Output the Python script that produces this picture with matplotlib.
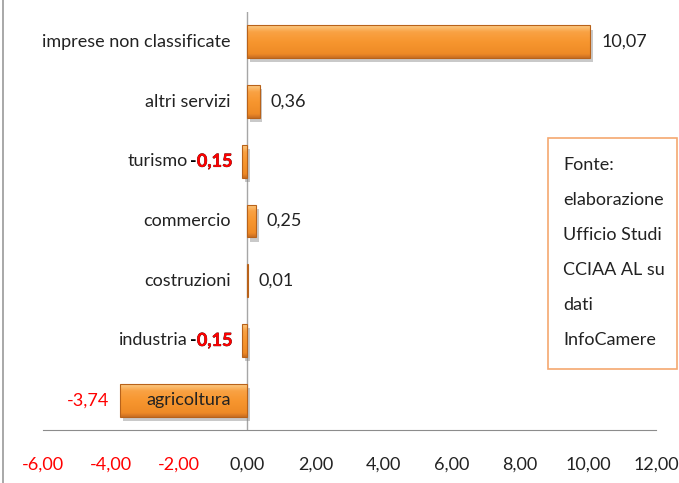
import matplotlib
matplotlib.use("Agg")
import matplotlib.pyplot as plt
import matplotlib.patheffects as pe
from matplotlib.lines import Line2D
from matplotlib.patches import Rectangle
import numpy as np

# data
categories = ["agricoltura", "industria", "costruzioni", "commercio",
              "turismo", "altri servizi", "imprese non classificate"]
values = [-3.74, -0.15, 0.01, 0.25, -0.15, 0.36, 10.07]
xticks = [-6, -4, -2, 0, 2, 4, 6, 8, 10, 12]
note_lines = ["Fonte:", "elaborazione", "Ufficio Studi", "CCIAA AL su", "dati", "InfoCamere"]

plt.rcParams["font.family"] = ["Lato", "DejaVu Sans"]

fs = 13
text_col = "#222222"
red = "#FF0000"

W, H = 679, 483
fig = plt.figure(figsize=(W / 100, H / 100), dpi=100)
ax = fig.add_axes([43 / W, 53 / H, (656 - 43) / W, (430 - 12) / H])

ypos = np.arange(len(categories))
bh = 0.55

# bars with shadow, gradient fill and edge
bars = ax.barh(ypos, values, height=bh, color="#F39A3A", zorder=2,
               path_effects=[pe.withSimplePatchShadow(offset=(2, -3), shadow_rgbFace="#888888", alpha=0.45),
                             pe.Normal()])
grad = np.linspace(0, 1, 64).reshape(-1, 1)
cmap = matplotlib.colors.LinearSegmentedColormap.from_list(
    "og", [(0, "#C96E22"), (0.12, "#EE8A26"), (0.5, "#F7962F"), (0.8, "#F9A244"), (1, "#FCCB86")])
for b in bars:
    x0, y0 = b.get_x(), b.get_y()
    w, h = b.get_width(), b.get_height()
    im = ax.imshow(grad, cmap=cmap, aspect="auto", origin="lower", interpolation="bilinear",
                   extent=(min(x0, x0 + w), max(x0, x0 + w), y0, y0 + h), zorder=3)
    im.set_clip_path(b)
ax.barh(ypos, values, height=bh, facecolor="none", edgecolor="#B8621A", linewidth=0.8, zorder=4)

# value and category labels
for y, v, name in zip(ypos, values, categories):
    lab = f"{abs(v):.2f}".replace(".", ",")
    if v >= 0:
        ax.annotate(lab, (v, y), xytext=(8, 0), textcoords="offset points",
                    ha="left", va="center", fontsize=fs, color=text_col)
        ax.annotate(name, (0, y), xytext=(-12, 0), textcoords="offset points",
                    ha="right", va="center", fontsize=fs, color=text_col, zorder=5)
    elif v < -1:
        ax.annotate("-" + lab, (v, y), xytext=(-8, 0), textcoords="offset points",
                    ha="right", va="center", fontsize=fs, color=red)
        ax.annotate(name, (0, y), xytext=(-12, 0), textcoords="offset points",
                    ha="right", va="center", fontsize=fs, color=text_col, zorder=5)
    else:
        t = ax.annotate(lab, (v, y), xytext=(-7, 0), textcoords="offset points",
                        ha="right", va="center", fontsize=fs, color=red, fontweight="bold",
                        path_effects=[pe.withStroke(linewidth=0.4, foreground="#330000")])
        m = ax.annotate("-", (0, 0.5), xycoords=t, ha="right", va="center",
                        fontsize=fs, color="black", fontweight="bold")
        ax.annotate(name, (0, 0.5), xycoords=m, xytext=(-2, 0), textcoords="offset points",
                    ha="right", va="center", fontsize=fs, color=text_col)

ax.axvline(0, color="#A6A6A6", linewidth=1, zorder=1)
ax.set_xlim(xticks[0], xticks[-1])
ax.set_ylim(-0.5, len(categories) - 0.5)
ax.set_xticks(xticks)
ax.set_xticklabels([f"{t:.2f}".replace(".", ",") for t in xticks], fontsize=fs)
for tl, t in zip(ax.get_xticklabels(), xticks):
    tl.set_color(red if t < 0 else text_col)
ax.set_yticks([])
ax.tick_params(axis="x", length=0, pad=19)
for s in ["top", "right", "left"]:
    ax.spines[s].set_visible(False)
ax.spines["bottom"].set_color("#8C8C8C")

# outer border on the left
fig.add_artist(Line2D([3 / W, 3 / W], [0, 1], color="#9A9A9A", linewidth=1.2))

# source note box
fig.add_artist(Rectangle((548 / W, 1 - 369 / H), (677 - 548) / W, (369 - 138) / H,
                         transform=fig.transFigure, facecolor="white", edgecolor="#F5A870", linewidth=1.2))
for i, line in enumerate(note_lines):
    fig.text(563 / W, 1 - (165 + 35 * i) / H, line, ha="left", va="center",
             fontsize=fs, color=text_col)

fig.savefig("out.png", dpi=100)
